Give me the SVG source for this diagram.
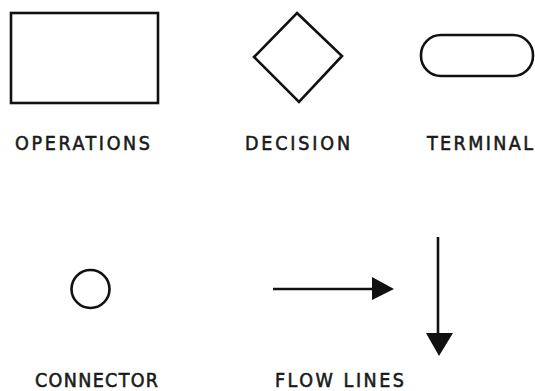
<svg xmlns="http://www.w3.org/2000/svg" width="535" height="391" viewBox="0 0 535 391">
<defs>
<style>
.s{fill:none;stroke:#111;stroke-width:2.6}
.t{font-family:"DejaVu Sans Condensed","DejaVu Sans",sans-serif;font-size:19.5px;fill:#1a1a1a;stroke:#1a1a1a;stroke-width:0.55}
.ah{fill:#111}
</style>
</defs>
<rect width="535" height="391" fill="#fff"/>
<g id="operations">
<rect class="s" x="11" y="13" width="147" height="90"/>
<text class="t" x="15" y="150" textLength="135" lengthAdjust="spacing">OPERATIONS</text>
</g>
<g id="decision">
<polygon class="s" points="297,13 342,56 299,102 254,57"/>
<text class="t" x="245" y="150" textLength="105" lengthAdjust="spacing">DECISION</text>
</g>
<g id="terminal">
<rect class="s" x="421" y="35" width="112" height="41" rx="20" ry="20"/>
<text class="t" x="427" y="150" textLength="106" lengthAdjust="spacing">TERMINAL</text>
</g>
<g id="connector">
<circle class="s" cx="90.5" cy="289" r="19"/>
<text class="t" x="35" y="387" textLength="123" lengthAdjust="spacing">CONNECTOR</text>
</g>
<g id="connectors">
<line class="s" x1="273" y1="289" x2="374" y2="289"/>
<polygon class="ah" points="372,277 394,289 372,300"/>
<line class="s" x1="438" y1="237" x2="438" y2="335"/>
<polygon class="ah" points="426,333 453,333 439,356"/>
</g>
<g id="flowlines">
<text class="t" x="275" y="387" textLength="129" lengthAdjust="spacing">FLOW LINES</text>
</g>
</svg>
